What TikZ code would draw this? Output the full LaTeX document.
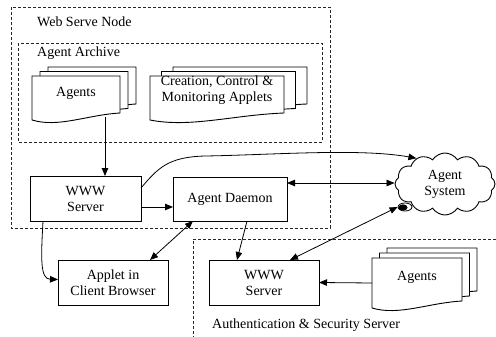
\documentclass[tikz,border=0pt]{standalone}
\usepackage{fontspec}
\setmainfont{Liberation Serif}
\usetikzlibrary{arrows.meta,shapes.symbols,shapes.geometric,calc}
\pgfdeclarelayer{background}
\pgfsetlayers{background,main}
\newcommand\docpg[3]{%
  \path[page] ($(#1.north west)+(#2,#3)$) -- ($(#1.north east)+(#2,#3)$)
    -- ($(#1.south east)+(#2,#3-7)$)
    .. controls ($(#1.south west)!0.62!(#1.south east)+(#2,#3-5)$)
       and ($(#1.south west)!0.3!(#1.south east)+(#2,#3+8)$)
    .. ($(#1.south west)+(#2,#3)$) -- cycle;}
\newcommand\docstk[3]{%
  \begin{pgfonlayer}{background}
  \docpg{#1}{2*#2}{2*#3}
  \docpg{#1}{#2}{#3}
  \docpg{#1}{0}{0}
  \end{pgfonlayer}}
\begin{document}
\begin{tikzpicture}[x=1pt,y=-1pt,
  font=\fontsize{14}{16}\selectfont,
  box/.style={draw,line width=0.9pt,fill=white,inner sep=0pt,outer sep=0pt,align=center},
  pagetext/.style={inner sep=0pt,outer sep=0pt,align=center,text height=10pt},
  page/.style={draw,line width=0.9pt,fill=white},
  conn/.style={line width=0.8pt,-{Triangle[length=8pt,width=6.5pt]}},
  biconn/.style={line width=0.8pt,{Triangle[length=8pt,width=6.5pt]}-{Triangle[length=8pt,width=6.5pt]}},
  region/.style={dash pattern=on 3pt off 2pt,line width=0.6pt,black!85},
  lbl/.style={anchor=west,inner sep=0pt}]
\useasboundingbox (0,0) rectangle (496,337);

% regions
\draw[region] (11,7) rectangle (330,228);
\draw[region] (18,43) rectangle (322,142);
\draw[region] (496,239) -- (193,239) -- (193,337);

\node[lbl] (wsn) at (37,22) {Web Serve Node};
\node[lbl] (aa) at (37,53) {Agent Archive};
\node[lbl] (ass) at (212,325) {Authentication \& Security Server};

% document stacks
\node[pagetext,text depth=12pt,minimum width=88,minimum height=44] (agL) at (76,98) {Agents};
\docstk{agL}{8}{-4.5}
\node[pagetext,minimum width=134,minimum height=44] (cca) at (217,98) {Creation, Control \&\\Monitoring Applets};
\docstk{cca}{11.5}{-4.5}
\node[pagetext,text depth=16pt,minimum width=90,minimum height=50] (agR) at (417,283) {Agents};
\docstk{agR}{7.5}{-5}

% boxes
\node[box,minimum width=111,minimum height=45] (www1) at (85.5,198.5) {WWW\\Server};
\node[box,minimum width=114,minimum height=44] (daemon) at (230,199) {Agent Daemon};
\node[box,minimum width=110,minimum height=45] (applet) at (113,282.5) {Applet in\\Client Browser};
\node[box,minimum width=110,minimum height=45] (www2) at (264,282.5) {WWW\\Server};

% cloud
\node[draw,cloud,cloud puffs=12,cloud puff arc=115,aspect=1.6,minimum width=100,minimum height=62,line width=0.9pt,fill=white,align=center,inner sep=0pt] (cloud) at (445,184) {Agent\\System};
\node[draw,ellipse,minimum width=14,minimum height=8,inner sep=0pt,line width=0.8pt,fill=white] (blob) at (405,207) {};
\fill ($(blob.center)+(-2,0.5)$) ellipse (4.5 and 3.2);

% connectors
\draw[conn] ($(agL.south)+(29,-3)$) -- ($(www1.north)+(19.5,0)$);
\draw[conn] ($(www1.east)+(0,8.5)$) -- ($(daemon.west)+(0,8)$);
\draw[conn] ($(www1.east)+(0,-10.5)$) .. controls (158,168) and (168,157) .. (205,156)
   .. controls (270,155) and (360,148) .. (cloud.138);
\draw[biconn] ($(daemon.east)+(0,-16)$) -- ($(cloud.west)+(0,-1)$);
\draw[conn] ($(daemon.south)+(17,0)$) -- ($(www2.north)+(-27,0)$);
\draw[biconn] ($(daemon.south)+(-37,0)$) -- ($(applet.north)+(37,0)$);
\draw[biconn] (blob.west) -- ($(www2.north)+(26,0)$);
\draw[conn] ($(www1.south)+(-42.5,0)$) .. controls (41,258) and (40,279) .. ($(applet.west)+(0,-3)$);
\draw[conn] (agR.west) -- (www2.east);
\end{tikzpicture}
\end{document}
